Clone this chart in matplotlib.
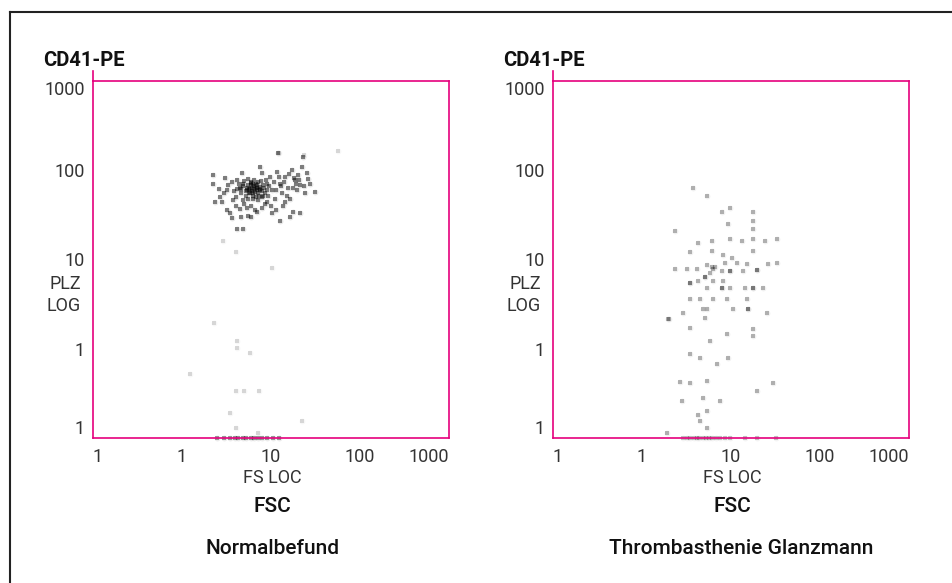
import matplotlib.pyplot as plt
from matplotlib.lines import Line2D

plt.rcParams['font.family'] = ['Roboto', 'DejaVu Sans']

# Normalbefund: FSC / CD41-PE Ereignisse, Hauptwolke
norm_fsc = [2.23, 2.23, 2.35, 3.04, 3.2, 2.81, 3.65, 3.74, 3.46, 3.65, 4.15, 4.49,
            4.49, 4.84, 5.37, 5.52, 5.81, 6.12, 6.28, 6.61, 6.97, 7.14, 7.52, 6.28,
            6.61, 5.37, 5.52, 7.93, 7.52, 8.13, 9.01, 9.75, 10.3, 10.3, 11.1, 11.7,
            12.6, 13.3, 13.6, 14.4, 15.5, 16.3, 17.2, 18.6, 19.6, 20.1, 21.2, 22.3,
            22.9, 25.4, 27.4, 24.1, 17.7, 12.6, 4.84, 4.15, 12.0, 16.3, 31.2, 21.2,
            7.93, 9.01, 4.72,
            3.0, 3.3, 3.8, 4.0, 4.2, 4.4, 4.6, 4.9, 5.0, 5.2, 5.5, 5.7, 5.9, 6.2,
            6.4, 6.8, 7.0, 7.4, 7.7, 8.3, 8.6, 8.8, 9.3, 9.6, 10.8, 11.4, 12.2, 13.0,
            14.0, 15.0, 16.0, 17.5, 18.2, 19.0, 20.5, 23.5, 26.0, 4.0, 5.0, 6.0, 8.5,
            10.0, 3.2, 4.6, 6.0, 7.0, 11.5, 14.5, 2.6, 2.7,
            5.8, 6.1, 6.5, 6.9, 7.2, 5.6, 6.3, 7.5, 6.0, 6.7, 5.4, 7.9, 6.4, 6.8,
            4.8, 5.2, 7.6, 8.2, 5.5, 8.0, 4.6, 9.0, 6.0, 7.2]
norm_cd41 = [88, 71, 44, 81, 60, 44, 73, 46, 33, 29, 77, 64,
             37, 46, 60, 68, 55, 64, 71, 57, 64, 73, 60, 48,
             36, 38, 31, 92, 108, 52, 71, 83, 60, 33, 48, 95,
             71, 55, 40, 83, 63, 48, 100, 77, 60, 88, 68, 108,
             140, 92, 71, 55, 34, 27, 22, 22, 155, 30, 57, 33,
             38, 44, 92,
             55, 68, 58, 50, 62, 70, 55, 66, 75, 52, 80, 62, 72, 56,
             78, 50, 68, 52, 75, 64, 56, 78, 52, 66, 74, 60, 84, 66,
             74, 52, 90, 64, 82, 70, 78, 66, 80, 40, 42, 40, 42,
             40, 36, 30, 30, 34, 36, 44, 62, 50,
             62, 58, 66, 60, 56, 56, 52, 65, 68, 70, 64, 58, 61, 63,
             70, 58, 62, 68, 48, 50, 62, 60, 74, 46]
# vereinzelte, blasse Ereignisse
norm_faint_fsc = [56.6, 2.89, 4.04, 2.29, 10.3, 4.15, 4.15, 5.81, 1.23, 4.04, 4.98,
                  7.33, 3.46, 4.04, 7.14, 22.3, 12.3, 23.5]
norm_faint_cd41 = [163, 16, 12, 1.96, 8.1, 1.23, 1.03, 0.90, 0.52, 0.34, 0.34,
                   0.34, 0.19, 0.13, 0.114, 0.155, 155, 148]
norm_fsc_floor = [2.47, 3.0, 3.5, 3.9, 4.3, 4.8, 5.3, 5.9, 6.5, 7.2, 8.0, 9.0, 10.5, 12.3]

# Thrombasthenie Glanzmann
glanz_fsc = [3.74, 5.37, 9.75, 17.7, 7.93, 2.35, 9.25, 17.7, 17.7, 4.26, 6.12, 9.75,
             13.3, 17.7, 24.1, 3.46, 6.12, 8.13, 10.3, 17.7, 2.35, 3.2, 4.15, 5.37,
             6.61, 8.57, 11.7, 15.1, 19.6, 33, 26.1, 5.1, 5.81, 6.28, 7.93, 9.75,
             13.6, 3.46, 4.26, 6.28, 8.13, 3.46, 5.37, 7.93, 9.75, 14.4, 17.7, 22.9,
             3.46, 4.49, 6.28, 9.01, 15.1, 5.37, 10.5, 15.5, 5.1, 2.89, 1.96, 25.4,
             3.46, 17.7, 17.7, 9.01, 5.81, 3.46, 4.49, 6.97, 9.25, 2.67, 3.46, 5.37,
             2.81, 4.84, 7.52, 19.6, 4.26, 5.37, 4.49, 5.37, 1.91, 29.6, 2.01, 33,
             5.1, 6.12, 7.93, 15.5, 17.7, 9.75, 19.6, 4.84]
glanz_cd41 = [64, 52, 38, 34, 34, 20.6, 25, 27, 22, 15.5, 16.3, 17,
              16.3, 17, 16.3, 12, 12.6, 11.1, 10.3, 12.6, 7.9, 7.9, 7.9, 8.6,
              8.3, 9.25, 9.25, 9.0, 7.7, 9.25, 9.0, 6.3, 7.1, 7.9, 7.5, 7.5,
              7.5, 5.5, 5.8, 5.8, 5.8, 5.4, 4.8, 4.8, 4.8, 4.8, 4.8, 4.8,
              3.65, 3.65, 3.65, 3.65, 3.65, 2.8, 2.8, 2.8, 2.23, 2.5, 2.17, 2.5,
              1.72, 1.68, 1.40, 1.48, 1.23, 0.88, 0.79, 0.68, 0.79, 0.42, 0.41, 0.44,
              0.26, 0.28, 0.26, 0.34, 0.18, 0.20, 0.155, 0.13, 0.114, 0.41, 2.17, 17,
              6.3, 8.3, 4.8, 2.8, 4.8, 7.5, 7.7, 2.8]
glanz_faint_fsc = []
glanz_faint_cd41 = []
glanz_fsc_floor = [2.89, 3.2, 3.5, 3.8, 4.1, 4.4, 4.8, 5.2, 5.6, 6.1, 6.7, 7.5, 8.5, 9.75,
                   14.4, 19.6, 32]

tick_pos = [0.1, 1, 10, 100, 1000]
tick_txt = ['1', '1', '10', '100', '1000']

W, H = 953, 583
pink = '#e5007d'
grau = '#333333'


def fx(px):
    return px / W


def fy(py):
    return 1 - py / H


def punkte(ax, x, y, alpha, clip=True):
    # weicher Hof + Kern, damit die Ereignisse etwas verwaschen aussehen
    ax.scatter(x, y, s=18, marker='o', color='black', alpha=alpha * 0.1,
               linewidths=0, clip_on=clip, zorder=1)
    ax.scatter(x, y, s=6, marker='s', color='black', alpha=alpha * 0.45,
               linewidths=0, clip_on=clip, zorder=1)


def panel(links, fsc, cd41, faint_x, faint_y, floor, alpha):
    ax = fig.add_axes([fx(links), fy(438), 356 / W, 357 / H])
    punkte(ax, fsc, cd41, alpha)
    if faint_x:
        punkte(ax, faint_x, faint_y, 0.3)
    punkte(ax, floor, [0.1] * len(floor), alpha * 0.8, clip=False)
    ax.set_xscale('log')
    ax.set_yscale('log')
    ax.set_xlim(0.1, 1000)
    ax.set_ylim(0.1, 1000)
    ax.set_xticks(tick_pos, tick_txt)
    ax.set_yticks(tick_pos, tick_txt)
    ax.minorticks_off()
    ax.tick_params(length=0, labelsize=13, labelcolor=grau)
    ax.tick_params(axis='x', pad=7)
    ax.tick_params(axis='y', pad=6)
    xl = ax.get_xticklabels()
    xl[0].set_ha('left')
    xl[-1].set_ha('right')
    yl = ax.get_yticklabels()
    yl[0].set_va('bottom')
    yl[-1].set_va('top')
    for s in ax.spines.values():
        s.set_color(pink)
        s.set_linewidth(1.2)
    # kleiner Strich oben links
    ax.plot([0, 0], [1, 1.027], transform=ax.transAxes, color=pink,
            lw=1.2, clip_on=False)

    mitte = links + 178
    fig.text(fx(links - 12), fy(284), 'PLZ', ha='right', va='center',
             fontsize=13, color=grau)
    fig.text(fx(links - 12), fy(306), 'LOG', ha='right', va='center',
             fontsize=13, color=grau)
    fig.text(fx(links - 50), fy(61), 'CD41-PE', ha='left', va='center',
             fontsize=14.5, fontweight='bold', color='#111111')
    fig.text(fx(mitte + 1), fy(478), 'FS LOC', ha='center', va='center',
             fontsize=13, color=grau)
    fig.text(fx(mitte + 1), fy(506), 'FSC', ha='center', va='center',
             fontsize=15, fontweight='medium', color='#111111')
    return ax


fig = plt.figure(figsize=(9.53, 5.83), dpi=100)

panel(93, norm_fsc, norm_cd41, norm_faint_fsc, norm_faint_cd41, norm_fsc_floor, 1.0)
panel(553, glanz_fsc, glanz_cd41, glanz_faint_fsc, glanz_faint_cd41, glanz_fsc_floor, 0.6)

fig.text(fx(273), fy(548), 'Normalbefund', ha='center', va='center',
         fontsize=15, fontweight='medium', color='#111111')
fig.text(fx(741), fy(548), 'Thrombasthenie Glanzmann', ha='center', va='center',
         fontsize=15, fontweight='medium', color='#111111')

# Rahmen oben und links
fig.add_artist(Line2D([fx(10), 1], [fy(11.5), fy(11.5)], color='#222222', lw=1.5))
fig.add_artist(Line2D([fx(10), fx(10)], [fy(11.5), 0], color='#222222', lw=1.5))

fig.savefig('out.png', dpi=100)
